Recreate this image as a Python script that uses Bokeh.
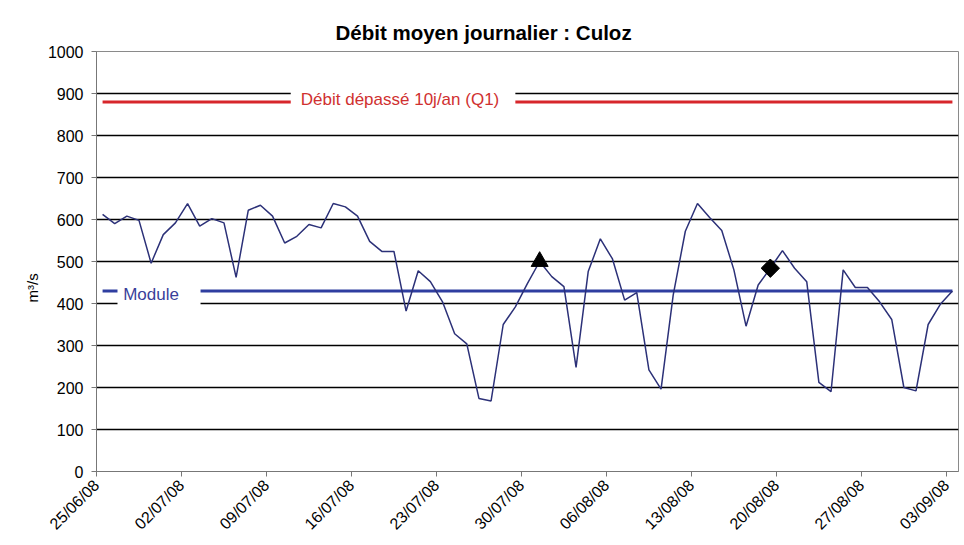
import math
from datetime import timedelta
import pandas as pd
from bokeh.plotting import figure
from bokeh.models import (ColumnDataSource, FixedTicker, DatetimeTickFormatter,
                          Range1d, BoxAnnotation, Label, Title)
from bokeh.embed import file_html
from bokeh.resources import INLINE

# ---------------- data ----------------
start_date = "25/06/08"
debit = [612, 590, 608, 598, 496, 564, 592, 638, 584, 602,
         592, 462, 622, 634, 608, 544, 560, 588, 580, 638,
         630, 608, 548, 524, 524, 382, 478, 452, 404, 328,
         304, 174, 168, 350, 392, 448, 500, 464, 440, 248,
         476, 554, 506, 408, 426, 242, 196, 420, 572, 638,
         605, 574, 480, 346, 444, 484, 526, 484, 452, 212,
         190, 480, 438, 438, 404, 362, 200, 192, 350, 398,
         430]
tick_labels = ["25/06/08", "02/07/08", "09/07/08", "16/07/08", "23/07/08",
               "30/07/08", "06/08/08", "13/08/08", "20/08/08", "27/08/08",
               "03/09/08"]
y_ticks = [0, 100, 200, 300, 400, 500, 600, 700, 800, 900, 1000]
q1_value = 880
q1_label = "Débit dépassé 10j/an (Q1)"
module_value = 430
module_label = "Module"
triangle_dates = ["31/07/08"]
triangle_values = [500]
diamond_dates = ["19/08/08"]
diamond_values = [484]
title_text = "Débit moyen journalier : Culoz"
y_label = "m³/s"

# ---------------- helpers ----------------
FMT = "%d/%m/%y"
t0 = pd.to_datetime(start_date, format=FMT)
half = timedelta(hours=12)

def ms(ts):
    return ts.value / 1e6

def day_ms(d):
    return ms(t0 + timedelta(days=d))

dates = [t0 + timedelta(days=i) + half for i in range(len(debit))]
src = ColumnDataSource(dict(x=dates, y=debit,
                            q1=[q1_value] * len(debit),
                            mod=[module_value] * len(debit)))
tri_src = ColumnDataSource(dict(
    x=[pd.to_datetime(d, format=FMT) + half for d in triangle_dates],
    y=triangle_values))
dia_src = ColumnDataSource(dict(
    x=[pd.to_datetime(d, format=FMT) + half for d in diamond_dates],
    y=diamond_values))

FONT = "Liberation Sans"

p = figure(width=964, height=545, x_axis_type="datetime",
           output_backend="svg", toolbar_location=None,
           x_range=Range1d(day_ms(0), day_ms(len(debit))),
           y_range=Range1d(0, 1000),
           min_border_left=96, min_border_right=6,
           min_border_top=51, min_border_bottom=74)

p.title.text = title_text
p.title.text_font = FONT
p.title.text_font_size = "20.5px"
p.title.text_font_style = "bold"
p.title.text_color = "black"
p.title.align = "left"
p.title.offset = 239
p.title.standoff = 15

# grid
p.xgrid.grid_line_color = None
p.ygrid.grid_line_color = "black"
p.ygrid.grid_line_width = 1.5
p.outline_line_color = "#8a8a8a"

# axes
p.xaxis.ticker = FixedTicker(ticks=[ms(pd.to_datetime(t, format=FMT)) for t in tick_labels])
f = FMT
p.xaxis.formatter = DatetimeTickFormatter(milliseconds=f, seconds=f, minsec=f, minutes=f,
                                          hourmin=f, hours=f, days=f, months=f, years=f)
p.xaxis.major_label_orientation = math.pi / 4
p.yaxis.ticker = FixedTicker(ticks=y_ticks)
for ax in (p.xaxis, p.yaxis):
    ax.axis_line_color = "#777777"
    ax.major_tick_line_color = "#777777"
    ax.major_tick_in = 0
    ax.major_tick_out = 5
    ax.minor_tick_line_color = None
    ax.major_label_text_font = FONT
    ax.major_label_text_font_size = "16px"
    ax.major_label_text_color = "black"
p.yaxis.major_label_standoff = 8
p.xaxis.major_label_standoff = 6

# y-axis title on the left side, shifted along the axis
p.add_layout(Title(text=y_label, align="left", offset=169, standoff=8,
                   text_font=FONT, text_font_size="15px", text_font_style="normal",
                   text_color="black"), "left")

# reference lines
p.line("x", "q1", source=src, line_color="#d7262b", line_width=3)
p.line("x", "mod", source=src, line_color="#2f3ea0", line_width=3)

# daily series
p.line("x", "y", source=src, line_color="#2c3178", line_width=1.5)

# markers
p.scatter("x", "y", source=tri_src, marker="triangle", size=17,
          fill_color="black", line_color="black")
p.scatter("x", "y", source=dia_src, marker="square", size=13, angle=math.pi / 4,
          fill_color="black", line_color="black")

# labels with white boxes
p.add_layout(BoxAnnotation(left=day_ms(16.0), right=day_ms(34.5), bottom=857, top=918,
                           fill_color="white", fill_alpha=1, line_color=None))
p.add_layout(Label(x=day_ms(25.0), y=886, text=q1_label, text_align="center",
                   text_baseline="middle", text_color="#d03030",
                   text_font=FONT, text_font_size="17px"))
p.add_layout(BoxAnnotation(left=day_ms(1.73), right=day_ms(8.57), bottom=392, top=453,
                           fill_color="white", fill_alpha=1, line_color=None))
p.add_layout(Label(x=day_ms(2.2), y=422, text=module_label, text_align="left",
                   text_baseline="middle", text_color="#3a3f9a",
                   text_font=FONT, text_font_size="17px"))

open("out.html", "w").write(file_html(p, INLINE))
